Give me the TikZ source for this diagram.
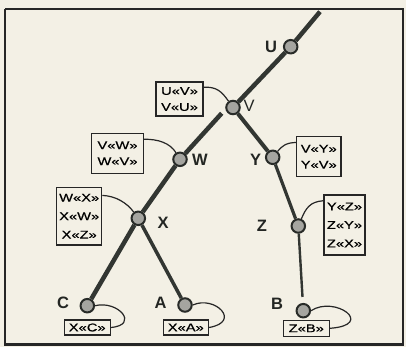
\documentclass[tikz,border=0pt]{standalone}
\usepackage{fontspec}
\setmainfont{Liberation Sans}
\newfontfamily\boxfont[FakeStretch=1.3,FakeBold=0.6]{Liberation Sans}
\definecolor{paper}{RGB}{243,240,229}
\definecolor{ink}{RGB}{50,54,50}
\definecolor{dot}{RGB}{165,165,160}

\begin{document}
\begin{tikzpicture}[x=1pt,y=1pt,
  branch/.style={draw=ink,line width=4.5pt},
  joint/.style={circle,draw=ink!80!black,line width=2pt,fill=dot,minimum size=13.5pt,inner sep=0pt},
  lbl/.style={font=\fontsize{16.5}{16.5}\selectfont\bfseries,text=ink!70!black,inner sep=0pt},
  tag/.style={draw=black!85,line width=1.2pt,fill=paper,inner sep=0pt,align=center,
    font=\boxfont\fontsize{11.3}{16}\selectfont},
  tagthree/.style={tag,font=\boxfont\fontsize{11.3}{18.5}\selectfont},
  link/.style={draw=black!85,line width=1.2pt},
]
% paper and frame
\fill[paper] (0,0) rectangle (406,-347);
\useasboundingbox (0,0) rectangle (406,-347);
\draw[black!85,line width=1.4pt] (5,-9) -- (5,-344) (5,-9) -- (403,-9) -- (403,-344);
\draw[black!85,line width=3pt] (4,-344) -- (404,-344);

% free ends of the branches
\coordinate (top) at (320,-11.7);
\coordinate (wtop) at (221.7,-113.3);

% joints
\node[joint] (u) at (290.7,-46.7) {};
\node[joint] (v) at (233,-107.5) {};
\node[joint] (w) at (180,-159.3) {};
\node[joint] (x) at (138.3,-218.3) {};
\node[joint] (c) at (87.3,-305.7) {};
\node[joint] (a) at (185,-305) {};
\node[joint] (y) at (272.7,-157.3) {};
\node[joint] (z) at (298.3,-226) {};
\node[joint] (b) at (303.3,-310.7) {};

% joint labels
\node[lbl] (ul) at (271,-47) {U};
\node[lbl,font=\fontsize{16.5}{16.5}\selectfont] (vl) at (249,-106) {V};
\node[lbl] (wl) at (200,-160) {W};
\node[lbl] (xl) at (163,-223) {X};
\node[lbl] (cl) at (63,-303) {C};
\node[lbl] (al) at (160.7,-303) {A};
\node[lbl] (yl) at (255.5,-160) {Y};
\node[lbl] (zl) at (262,-226) {Z};
\node[lbl] (bl) at (277,-304) {B};

% branches
\draw[branch] (top) -- (u);
\draw[branch] (u) -- (v);
\draw[branch,line width=4pt] (v) -- (y);
\draw[branch] (wtop) -- (w);
\draw[branch] (w) -- (x);
\draw[branch] (x) -- (c);
\draw[branch,line width=3.5pt] (x) -- (a);
\draw[branch,line width=3.2pt] (y) -- (z);
\draw[branch,line width=2.4pt,shorten >=6pt] (z) -- (b);

% tables
\node[tag,minimum width=47pt,minimum height=34pt] (uv) at (179.5,-99) {U«V»\\V«U»};
\node[tag,minimum width=51.6pt,minimum height=40pt] (vw) at (117.5,-153.3) {V«W»\\W«V»};
\node[tagthree,minimum width=45pt,minimum height=57.7pt] (wx) at (79.2,-216.2) {W«X»\\X«W»\\X«Z»};
\node[tag,minimum width=44.3pt,minimum height=40pt] (vy) at (318.8,-156.7) {V«Y»\\Y«V»};
\node[tagthree,minimum width=41pt,minimum height=60pt] (yz) at (344.5,-225) {Y«Z»\\Z«Y»\\Z«X»};
\node[tag,minimum width=46pt,minimum height=15pt] (xc) at (87.2,-327.5) {X«C»};
\node[tag,minimum width=45pt,minimum height=15pt] (xa) at (185.8,-327.5) {X«A»};
\node[tag,minimum width=46pt,minimum height=16pt] (zb) at (306.3,-328.3) {Z«B»};

% table leads
\draw[link] (uv.26) .. controls (217,-86.5) and (222,-92) .. (v);
\draw[link] (vw.28) .. controls (158,-139) and (170,-143) .. (w);
\draw[link] (wx.42) .. controls (116,-196) and (127,-203) .. (x);
\draw[link] (vy.148) .. controls (286,-142.7) and (282,-146) .. (y);
\draw[link] (yz.131) .. controls (310,-201.7) and (306,-208) .. (z);
\draw[link] (c.east) .. controls (118,-300) and (140,-325) .. (xc.east);
\draw[link] (a.east) .. controls (215,-295) and (242,-322) .. (xa.east);
\draw[link] (b.east) .. controls (335,-295) and (376,-325) .. (zb.east);
\end{tikzpicture}
\end{document}
